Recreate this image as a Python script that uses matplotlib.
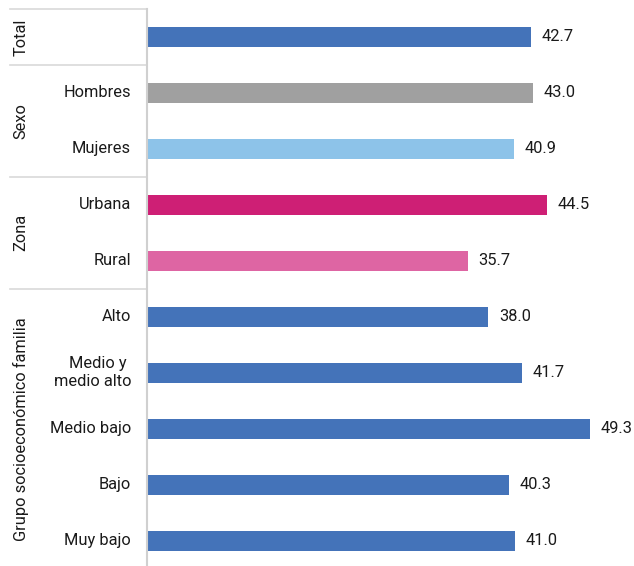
import matplotlib.pyplot as plt
from matplotlib.transforms import blended_transform_factory

plt.rcParams["font.family"] = ["Roboto", "DejaVu Sans"]

categories = ["", "Hombres", "Mujeres", "Urbana", "Rural", "Alto",
              "Medio y \nmedio alto", "Medio bajo", "Bajo", "Muy bajo"]
values = [42.7, 43.0, 40.9, 44.5, 35.7, 38.0, 41.7, 49.3, 40.3, 41.0]
colors = ["#4473B9", "#A0A0A0", "#8DC3E9", "#CE1F75", "#DE65A3",
          "#4473B9", "#4473B9", "#4473B9", "#4473B9", "#4473B9"]

groups = ["Total", "Sexo", "Zona", "Grupo socioeconómico familia"]
group_rows = [(0, 0), (1, 2), (3, 4), (5, 9)]

fs = 11.8
txt = "#1A1A1A"

fig = plt.figure(figsize=(6.34, 5.66), dpi=100)
ax = fig.add_axes([147 / 634, 0, 487 / 634, 557 / 566])

pos = list(range(len(values)))
ax.barh(pos, values, height=0.36, color=colors)
ax.set_xlim(0, 54.2)
ax.set_ylim(9.45, -0.5)

for p, v in zip(pos, values):
    ax.annotate(f"{v:.1f}", (v, p), xytext=(7.5, 0), textcoords="offset points",
                va="center", ha="left", fontsize=fs, color=txt)

# category labels
trans = blended_transform_factory(ax.transAxes, ax.transData)
for p, c in zip(pos, categories):
    ax.text(-16 / 487, p, c, transform=trans, ha="right", va="center",
            fontsize=fs, color=txt, linespacing=1.25)

# group labels and separators
line_x0 = -137 / 487
for name, (a, b) in zip(groups, group_rows):
    ax.text(-126 / 487, (a + b) / 2, name, transform=trans, rotation=90,
            ha="center", va="center", fontsize=fs, color=txt)
    ax.plot([line_x0, 0], [a - 0.5, a - 0.5], transform=trans, color="#D9D9D9",
            lw=1.2, clip_on=False)

for side in ["top", "right", "bottom"]:
    ax.spines[side].set_visible(False)
ax.spines["left"].set_color("#D0D0D0")
ax.spines["left"].set_linewidth(1.5)
ax.set_xticks([])
ax.set_yticks([])

fig.savefig("out.png", dpi=100)
